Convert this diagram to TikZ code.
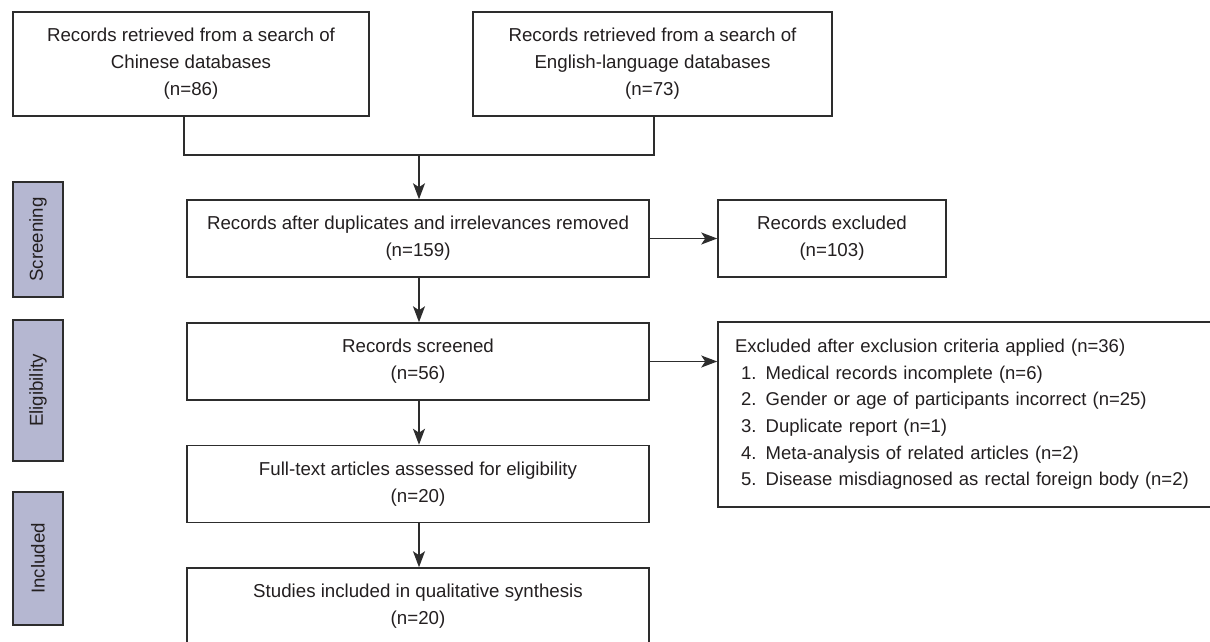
\documentclass[tikz,border=0pt]{standalone}
\usepackage{fontspec}
\setmainfont{Liberation Sans}
\usetikzlibrary{arrows.meta}
\definecolor{lav}{RGB}{181,183,209}
\definecolor{edge}{RGB}{45,45,45}
\definecolor{txt}{RGB}{35,31,32}
\begin{document}
\begin{tikzpicture}[x=1pt,y=-1pt,
  box/.style={draw=edge,line width=1.5pt,fill=white,inner sep=0pt,align=center,text=txt,
    font=\fontsize{18.7}{27}\selectfont},
  side/.style={draw=edge,line width=1.5pt,fill=lav,inner sep=0pt,rotate=90,text=txt,
    minimum height=50pt,font=\fontsize{18.7}{22}\selectfont},
  conn/.style={draw=edge,line width=1.5pt},
  arr/.style={conn,-{Stealth[length=16pt,width=12pt,inset=4pt]}}]
\useasboundingbox (0,0) rectangle (1210,641);
\clip (0,0) rectangle (1210,641);
\node[box,minimum width=356pt,minimum height=104pt] (b1) at (191,64)
  {Records retrieved from a search of\\Chinese databases\\(n=86)};
\node[box,minimum width=359pt,minimum height=104pt] (b2) at (652.5,64)
  {Records retrieved from a search of\\English-language databases\\(n=73)};
\node[box,minimum width=462pt,minimum height=77pt] (b3) at (418,238.5)
  {Records after duplicates and irrelevances removed\\(n=159)};
\node[box,minimum width=228pt,minimum height=77pt] (x1) at (832,238.5)
  {Records excluded\\(n=103)};
\node[box,minimum width=462pt,minimum height=77pt] (b4) at (418,361.5)
  {Records screened\\(n=56)};
\node[box,minimum width=462pt,minimum height=77pt] (b5) at (418,484)
  {Full-text articles assessed for eligibility\\(n=20)};
\node[box,minimum width=462pt,minimum height=77pt] (b6) at (418,606.5)
  {Studies included in qualitative synthesis\\(n=20)};
\node[box,minimum width=497pt,minimum height=185pt,inner xsep=17pt,text width=463pt,align=left,
  font=\fontsize{18.5}{26.6}\selectfont] (x2) at (966.5,414.5)
  {Excluded after exclusion criteria applied (n=36)\\
   \hspace*{6pt}1. Medical records incomplete (n=6)\\
   \hspace*{6pt}2. Gender or age of participants incorrect (n=25)\\
   \hspace*{6pt}3. Duplicate report (n=1)\\
   \hspace*{6pt}4. Meta-analysis of related articles (n=2)\\
   \hspace*{6pt}5. Disease misdiagnosed as rectal foreign body (n=2)};
\node[side,minimum width=115pt] (s1) at (38,239.5) {Screening};
\node[side,minimum width=141pt] (s2) at (38,390.5) {Eligibility};
\node[side,minimum width=133pt] (s3) at (38,558.5) {Included};
\coordinate (j) at (419,155);
\draw[conn] ([xshift=-7pt]b1.south) |- (j);
\draw[conn] (j) -| ([xshift=1.5pt]b2.south);
\draw[arr] (j) -- (b3.north -| j);
\draw[arr] (b3.east) -- (x1.west);
\draw[arr] (b3.south -| j) -- (b4.north -| j);
\draw[arr] (b4.east) -- (x2.west |- b4.east);
\draw[arr] (b4.south -| j) -- (b5.north -| j);
\draw[arr] (b5.south -| j) -- (b6.north -| j);
\end{tikzpicture}
\end{document}
